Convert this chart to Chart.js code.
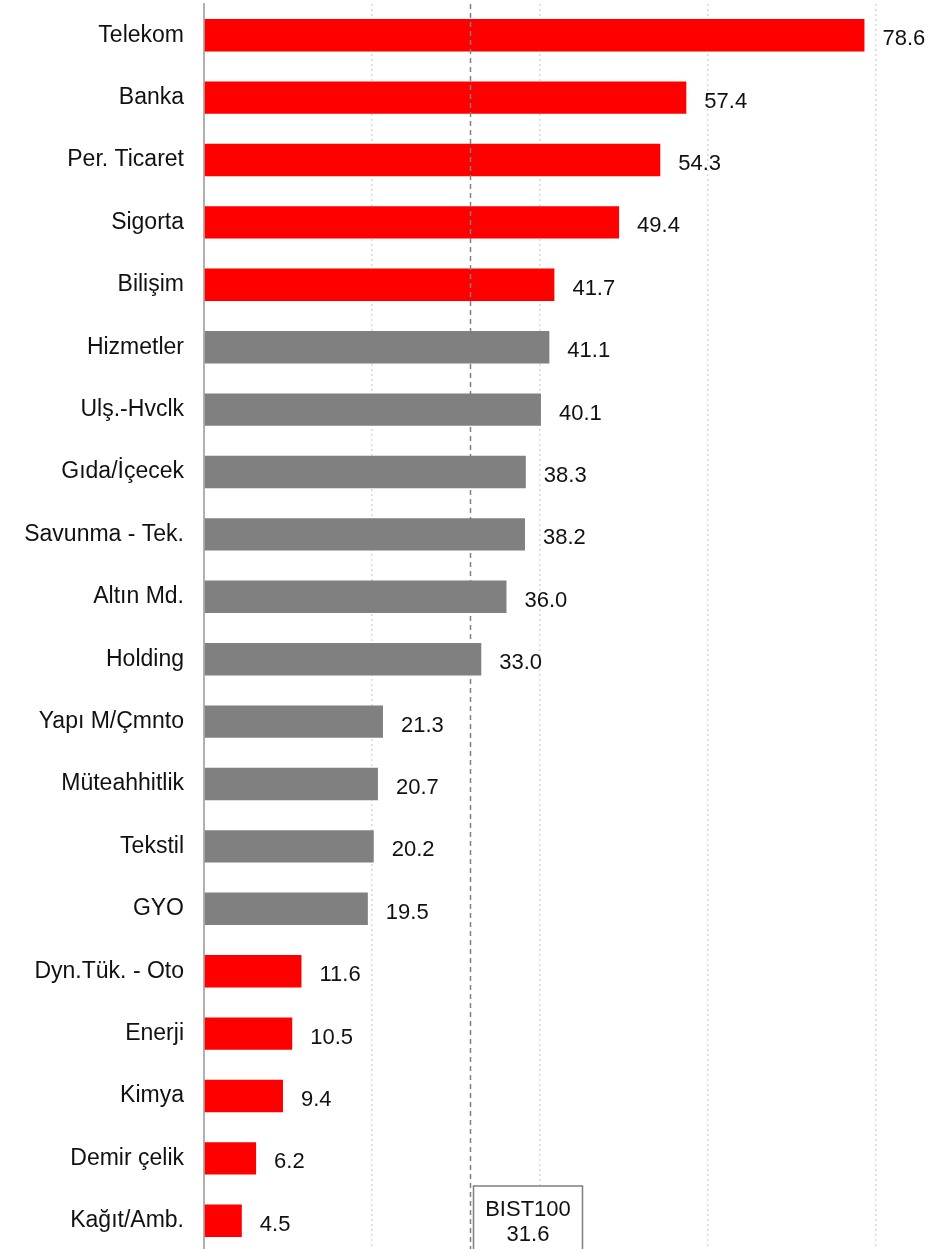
<!DOCTYPE html>
<html><head><meta charset="utf-8">
<script src="https://cdn.jsdelivr.net/npm/chart.js@4/dist/chart.umd.min.js"></script>
<style>html,body{margin:0;padding:0;background:#fff;overflow:hidden}#wrap{width:930px;height:1252px;position:relative}</style>
</head><body><div id="wrap"><canvas id="c"></canvas></div>
<script>
const categories = ["Telekom","Banka","Per. Ticaret","Sigorta","Bilişim","Hizmetler","Ulş.-Hvclk","Gıda/İçecek","Savunma - Tek.","Altın Md.","Holding","Yapı M/Çmnto","Müteahhitlik","Tekstil","GYO","Dyn.Tük. - Oto","Enerji","Kimya","Demir çelik","Kağıt/Amb."];
const values = [78.6,57.4,54.3,49.4,41.7,41.1,40.1,38.3,38.2,36.0,33.0,21.3,20.7,20.2,19.5,11.6,10.5,9.4,6.2,4.5];
const groups = ["up","up","up","up","up","mid","mid","mid","mid","mid","mid","mid","mid","mid","mid","up","up","up","up","up"];
const benchmarkLabel = "BIST100";
const benchmarkValue = 31.6;
const gridTicks = [20,40,60,80];

const groupColors = {up:"#ff0000", mid:"#808080"};
const FONT = "'Liberation Sans', Arial, sans-serif";

const overlay = {
  id:'overlay',
  afterDatasetsDraw(chart){
    const {ctx, scales:{x,y}, chartArea} = chart;
    ctx.save();
    ctx.font = "22px " + FONT;
    ctx.fillStyle = "#111";
    ctx.textBaseline = "middle";
    ctx.textAlign = "left";
    const meta = chart.getDatasetMeta(0);
    meta.data.forEach((bar,i)=>{
      ctx.fillText(values[i].toFixed(1), bar.x + 18, bar.y + 4);
    });
    const bx = Math.round(x.getPixelForValue(benchmarkValue)) + 0.5;
    ctx.strokeStyle = "#7f7f7f";
    ctx.lineWidth = 1.5;
    ctx.setLineDash([5,4]);
    ctx.beginPath();
    ctx.moveTo(bx, chartArea.top);
    ctx.lineTo(bx, 1257);
    ctx.stroke();
    ctx.setLineDash([]);
    const left = bx + 3, top = 1186, w = 109, h = 80;
    ctx.fillStyle = "#fff";
    ctx.fillRect(left, top, w, h);
    ctx.strokeStyle = "#808080";
    ctx.lineWidth = 1.5;
    ctx.strokeRect(left, top, w, h);
    ctx.fillStyle = "#111";
    ctx.textAlign = "center";
    ctx.font = "22px " + FONT;
    ctx.fillText(benchmarkLabel, left + w/2, top + 24);
    ctx.fillText(benchmarkValue.toFixed(1), left + w/2, top + 49);
    ctx.restore();
  }
};

new Chart(document.getElementById('c'), {
  type:'bar',
  data:{labels:categories, datasets:[{data:values, backgroundColor:groups.map(g=>groupColors[g]), barPercentage:0.52, categoryPercentage:1.0}]},
  options:{
    indexAxis:'y', responsive:true, maintainAspectRatio:false, animation:false,
    layout:{padding:{top:4,right:0,bottom:0,left:0}},
    plugins:{legend:{display:false}, tooltip:{enabled:false}},
    scales:{
      x:{min:0, max:86.4, afterBuildTicks(s){ s.ticks = [0].concat(gridTicks).map(v=>({value:v})); },
         afterFit(s){ s.height = 0; s.paddingLeft = 0; s.paddingRight = 0; },
         ticks:{display:false},
         grid:{drawTicks:false, color:(c)=> (c.tick && c.tick.value>0) ? "#d9d9d9" : "rgba(0,0,0,0)", lineWidth:1.5},
         border:{display:false, dash:[2,3]}},
      y:{afterFit(s){ s.width = 204; s.paddingTop = 0; s.paddingBottom = 0; },
         ticks:{font:{family:FONT, size:23}, color:"#111", padding:20},
         grid:{display:false, drawTicks:false},
         border:{display:true, color:"#b0b0b0", width:2}}
    }
  },
  plugins:[overlay]
});
</script></body></html>
